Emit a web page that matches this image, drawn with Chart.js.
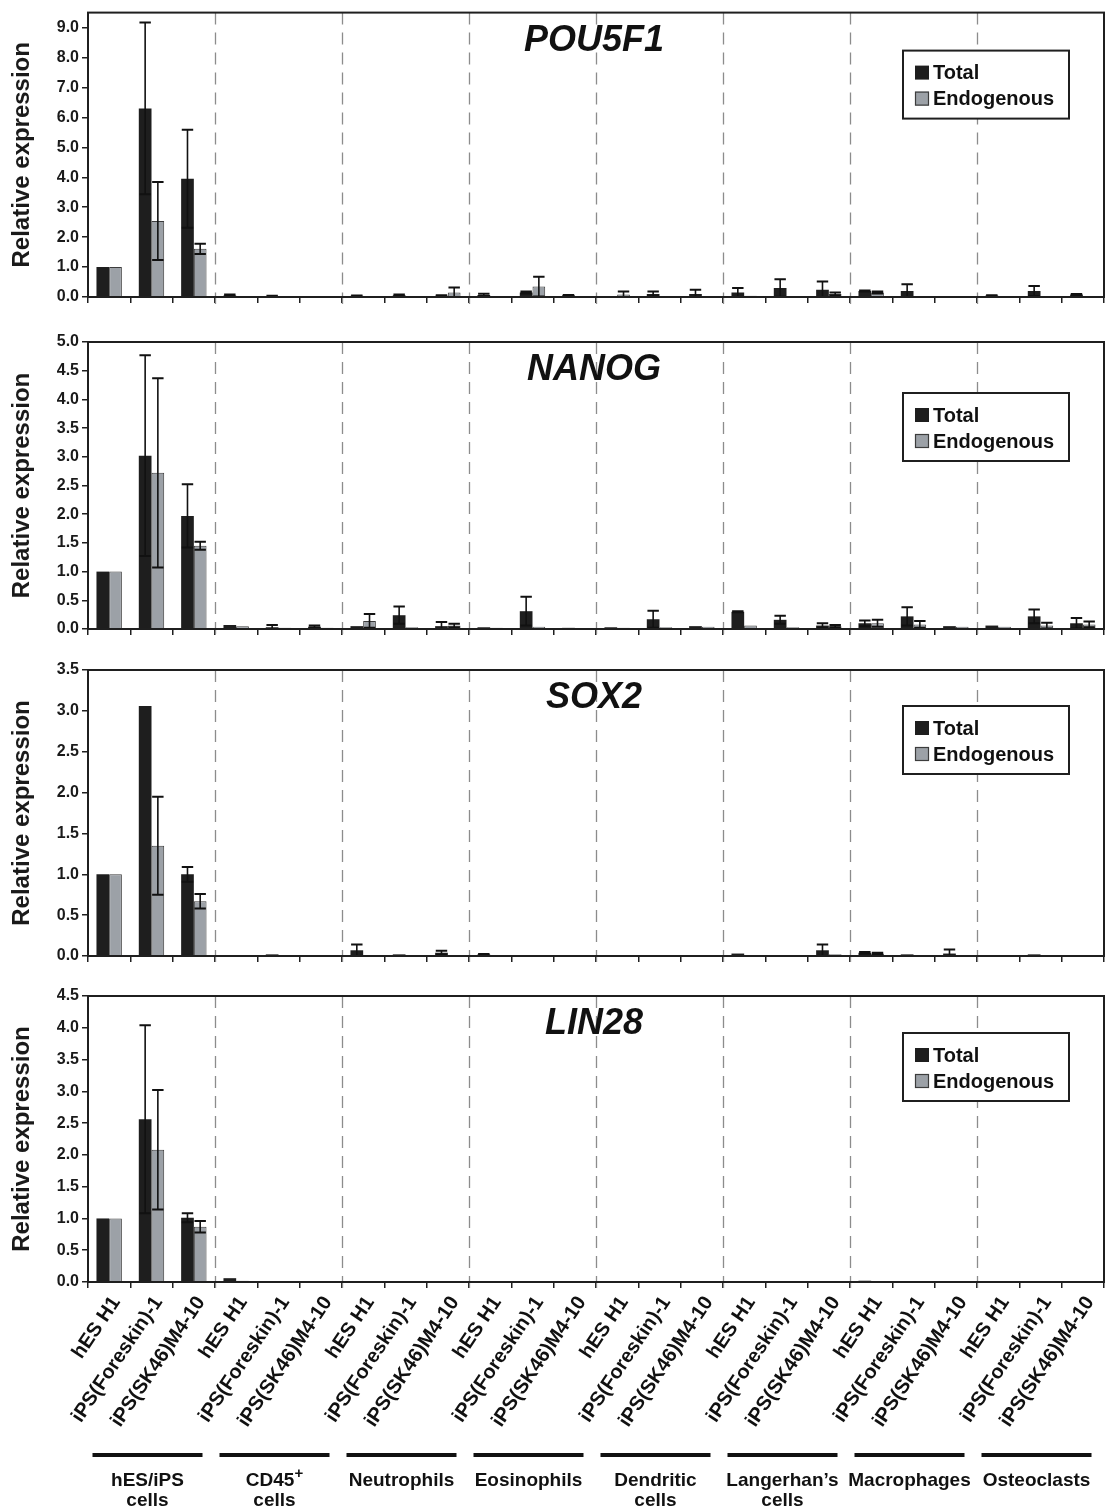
<!DOCTYPE html>
<html><head><meta charset="utf-8">
<script src="https://cdn.jsdelivr.net/npm/chart.js@4.4.1/dist/chart.umd.min.js"></script>
<style>
html,body{margin:0;padding:0;background:#fff;}
#wrap{position:relative;width:1107px;height:1512px;overflow:hidden;}
canvas{position:absolute;left:0;display:block;}
</style></head><body>
<div id="wrap">
<canvas id="c0" width="1107" height="320" style="top:0px"></canvas>
<canvas id="c1" width="1107" height="330" style="top:320px"></canvas>
<canvas id="c2" width="1107" height="326" style="top:650px"></canvas>
<canvas id="c3" width="1107" height="536" style="top:976px"></canvas>
</div>
<script>
// ---------------- DATA ----------------
const sampleLabels = [
  'hES H1','iPS(Foreskin)-1','iPS(SK46)M4-10',
  'hES H1','iPS(Foreskin)-1','iPS(SK46)M4-10',
  'hES H1','iPS(Foreskin)-1','iPS(SK46)M4-10',
  'hES H1','iPS(Foreskin)-1','iPS(SK46)M4-10',
  'hES H1','iPS(Foreskin)-1','iPS(SK46)M4-10',
  'hES H1','iPS(Foreskin)-1','iPS(SK46)M4-10',
  'hES H1','iPS(Foreskin)-1','iPS(SK46)M4-10',
  'hES H1','iPS(Foreskin)-1','iPS(SK46)M4-10'
];
const groupLabels = [
  ['hES/iPS','cells'], ['CD45+','cells'], ['Neutrophils'], ['Eosinophils'],
  ['Dendritic','cells'], ['Langerhan\u2019s','cells'], ['Macrophages'], ['Osteoclasts']
];
const seriesNames = ['Total','Endogenous'];
const geneNames = ['POU5F1','NANOG','SOX2','LIN28'];
const yMaxes = [9.5, 5.0, 3.5, 4.5];

const pou5f1Ticks = [0,1,2,3,4,5,6,7,8,9];
const nanogTicks  = [0,0.5,1,1.5,2,2.5,3,3.5,4,4.5,5];
const sox2Ticks   = [0,0.5,1,1.5,2,2.5,3,3.5];
const lin28Ticks  = [0,0.5,1,1.5,2,2.5,3,3.5,4,4.5];

const pou5f1Total    = [1.00,6.30,3.95, 0.05,0.03,0.02, 0.04,0.06,0.04, 0.07,0.15,0.06, 0.02,0.10,0.10, 0.15,0.30,0.24, 0.20,0.20,0.03, 0.05,0.20,0.08];
const pou5f1TotalErr = [0,2.87,1.64,    0.03,0.01,0,    0.01,0.02,0.02, 0.04,0.03,0.01, 0,0.08,0.14,    0.15,0.29,0.28, 0.02,0.23,0,    0.01,0.17,0.02];
const pou5f1Endo     = [1.00,2.54,1.61, 0.01,0.01,0.01, 0.03,0.02,0.15, 0.03,0.35,0.01, 0.08,0.02,0.02, 0.04,0.01,0.10, 0.15,0.01,0.01, 0.02,0.02,0.02];
const pou5f1EndoErr  = [0,1.30,0.17,    0,0,0,          0,0,0.17,       0,0.33,0,       0.10,0,0,       0,0,0.05,       0.03,0,0,       0,0,0];

const nanogTotal    = [1.00,3.02,1.97, 0.07,0.03,0.04, 0.05,0.24,0.05, 0.03,0.31,0.02, 0.03,0.17,0.05, 0.30,0.16,0.06, 0.10,0.22,0.05, 0.06,0.22,0.10];
const nanogTotalErr = [0,1.75,0.55,    0,0.04,0.02,    0,0.15,0.07,    0,0.25,0,       0,0.15,0,       0.01,0.07,0.04, 0.05,0.16,0,    0,0.12,0.09];
const nanogEndo     = [1.00,2.72,1.45, 0.05,0.02,0.02, 0.14,0.03,0.06, 0.02,0.04,0.01, 0.02,0.03,0.04, 0.06,0.03,0.05, 0.10,0.08,0.04, 0.04,0.06,0.08];
const nanogEndoErr  = [0,1.65,0.07,    0,0,0,          0.12,0,0.03,    0,0,0,          0,0,0,          0,0,0.02,       0.06,0.06,0,    0,0.05,0.05];

const sox2Total    = [1.00,3.06,1.00, 0.01,0.02,0.01, 0.07,0.02,0.04, 0.02,0.01,0.01, 0.01,0.01,0.01, 0.03,0.01,0.07, 0.04,0.02,0.03, 0.01,0.02,0.01];
const sox2TotalErr = [0,0,0.09,       0,0,0,          0.07,0,0.025,   0.005,0,0,      0,0,0,          0,0,0.07,       0.01,0,0.05,    0,0,0];
const sox2Endo     = [1.00,1.35,0.67, 0.005,0.01,0.005, 0.01,0.01,0.01, 0.01,0.005,0.005, 0.005,0.005,0.005, 0.01,0.01,0.02, 0.03,0.01,0.01, 0.005,0.01,0.005];
const sox2EndoErr  = [0,0.60,0.09,    0,0,0,          0,0,0,          0,0,0,          0,0,0,          0,0,0,          0.01,0,0,       0,0,0];

const lin28Total    = [1.00,2.56,1.01, 0.06,0.01,0.01, 0.005,0.005,0.005, 0.005,0.005,0.005, 0.005,0.005,0.005, 0.005,0.005,0.005, 0.02,0.005,0.005, 0.005,0.005,0.005];
const lin28TotalErr = [0,1.48,0.07,    0,0,0,          0,0,0,             0,0,0,             0,0,0,             0,0,0,             0,0,0,            0,0,0];
const lin28Endo     = [1.00,2.08,0.87, 0.02,0.005,0.01, 0.005,0.005,0.005, 0.005,0.005,0.005, 0.005,0.005,0.005, 0.005,0.005,0.005, 0.005,0.005,0.005, 0.005,0.005,0.005];
const lin28EndoErr  = [0,0.94,0.09,    0,0,0,          0,0,0,             0,0,0,             0,0,0,             0,0,0,             0,0,0,             0,0,0];

// ---------------- STYLE ----------------
const FONT = "'Liberation Sans', Arial, Helvetica, sans-serif";
const INK = '#1f1f1f';
const TOTAL_COLOR = '#1e1e1e';
const ENDO_COLOR = '#9ca1a7';
const ENDO_BORDER = '#3c3c3c';

const panels = [
  {id:'c0', gene:geneNames[0], max:yMaxes[0], ticks:pou5f1Ticks, total:pou5f1Total, totalErr:pou5f1TotalErr, endo:pou5f1Endo, endoErr:pou5f1EndoErr, padTop:10, xH:23, legTop:38, last:false},
  {id:'c1', gene:geneNames[1], max:yMaxes[1], ticks:nanogTicks,  total:nanogTotal,  totalErr:nanogTotalErr,  endo:nanogEndo,  endoErr:nanogEndoErr,  padTop:22, xH:21, legTop:51, last:false},
  {id:'c2', gene:geneNames[2], max:yMaxes[2], ticks:sox2Ticks,   total:sox2Total,   totalErr:sox2TotalErr,   endo:sox2Endo,   endoErr:sox2EndoErr,   padTop:20, xH:20, legTop:36, last:false},
  {id:'c3', gene:geneNames[3], max:yMaxes[3], ticks:lin28Ticks,  total:lin28Total,  totalErr:lin28TotalErr,  endo:lin28Endo,  endoErr:lin28EndoErr,  padTop:20, xH:230, legTop:37, last:true}
];

// ---------------- PLUGINS ----------------
const separatorPlugin = {
  id: 'separators',
  beforeDatasetsDraw(chart) {
    const {ctx, chartArea, scales:{x}} = chart;
    const n = chart.data.labels.length;
    const step = (x.getPixelForValue(1) - x.getPixelForValue(0));
    ctx.save();
    ctx.strokeStyle = '#8c8c8c';
    ctx.lineWidth = 1.3;
    ctx.setLineDash([12, 8]);
    for (let i = 3; i < n; i += 3) {
      const px = Math.round(x.getPixelForValue(i) - step / 2) + 0.5;
      ctx.beginPath();
      ctx.moveTo(px, chartArea.top);
      ctx.lineTo(px, chartArea.bottom + 7);
      ctx.stroke();
    }
    ctx.restore();
  }
};

const errorBarPlugin = {
  id: 'errorBars',
  afterDatasetsDraw(chart) {
    const {ctx, scales:{y}} = chart;
    ctx.save();
    ctx.strokeStyle = '#111';
    chart.data.datasets.forEach((ds, d) => {
      const meta = chart.getDatasetMeta(d);
      meta.data.forEach((bar, i) => {
        const v = ds.data[i], e = ds.errors[i];
        if (!e) return;
        const yt = y.getPixelForValue(v + e);
        const yb = y.getPixelForValue(Math.max(v - e, 0));
        const hw = bar.width * 0.45;
        ctx.lineWidth = 1.6;
        ctx.beginPath();
        ctx.moveTo(bar.x, yb); ctx.lineTo(bar.x, yt);
        ctx.stroke();
        ctx.lineWidth = 2;
        ctx.beginPath();
        ctx.moveTo(bar.x - hw, yt); ctx.lineTo(bar.x + hw, yt);
        ctx.moveTo(bar.x - hw, yb); ctx.lineTo(bar.x + hw, yb);
        ctx.stroke();
      });
    });
    ctx.restore();
  }
};

const framePlugin = {
  id: 'frame',
  afterDraw(chart, args, opts) {
    const {ctx, chartArea:a} = chart;
    ctx.save();
    ctx.strokeStyle = INK;
    ctx.lineWidth = 2;
    ctx.strokeRect(a.left, a.top, a.right - a.left, a.bottom - a.top);
    // gene title
    ctx.fillStyle = '#111';
    ctx.font = `italic bold 36px ${FONT}`;
    ctx.textAlign = 'center';
    ctx.textBaseline = 'alphabetic';
    ctx.fillText(opts.gene, (a.left + a.right) / 2 - 2, a.top + 38);
    // legend
    const bx = 903, bw = 166, by = a.top + opts.legTop, bh = 68;
    ctx.lineWidth = 2;
    ctx.strokeStyle = INK;
    ctx.fillStyle = '#fff';
    ctx.fillRect(bx, by, bw, bh);
    ctx.strokeRect(bx, by, bw, bh);
    ctx.font = `bold 20px ${FONT}`;
    ctx.textAlign = 'left';
    ctx.textBaseline = 'middle';
    chart.data.datasets.forEach((ds, d) => {
      const cy = by + 22 + d * 26;
      ctx.fillStyle = ds.backgroundColor;
      ctx.fillRect(915, cy - 7, 14, 14);
      if (ds.borderWidth) {
        ctx.lineWidth = 1.2;
        ctx.strokeStyle = ds.borderColor;
        ctx.strokeRect(915.5, cy - 6.5, 13, 13);
      }
      ctx.fillStyle = '#111';
      ctx.fillText(ds.label, 933, cy + 1);
    });
    ctx.restore();
  }
};

const groupLabelPlugin = {
  id: 'groupLabels',
  afterDraw(chart, args, opts) {
    if (!opts.show) return;
    const {ctx, chartArea:a, scales:{x}} = chart;
    ctx.save();
    ctx.fillStyle = '#111';
    ctx.strokeStyle = '#111';
    groupLabels.forEach((lines, g) => {
      const cx = (x.getPixelForValue(3 * g) + x.getPixelForValue(3 * g + 2)) / 2 - 4;
      ctx.lineWidth = 4;
      ctx.beginPath();
      ctx.moveTo(cx - 55, a.bottom + 173);
      ctx.lineTo(cx + 55, a.bottom + 173);
      ctx.stroke();
      ctx.textAlign = 'center';
      ctx.textBaseline = 'middle';
      lines.forEach((t, k) => {
        const ty = a.bottom + 199 + k * 20;
        ctx.font = `bold 19px ${FONT}`;
        if (t.endsWith('+')) {
          const base = t.slice(0, -1);
          const w = ctx.measureText(base).width;
          ctx.font = `bold 15px ${FONT}`;
          const pw = ctx.measureText('+').width;
          ctx.font = `bold 19px ${FONT}`;
          ctx.textAlign = 'left';
          const sx = cx - (w + pw) / 2;
          ctx.fillText(base, sx, ty);
          ctx.font = `bold 15px ${FONT}`;
          ctx.fillText('+', sx + w, ty - 7);
          ctx.textAlign = 'center';
        } else {
          ctx.fillText(t, cx, ty);
        }
      });
    });
    ctx.restore();
  }
};

// ---------------- CHARTS ----------------
panels.forEach(p => {
  new Chart(document.getElementById(p.id), {
    type: 'bar',
    data: {
      labels: sampleLabels,
      datasets: [
        {label: seriesNames[0], data: p.total, errors: p.totalErr, backgroundColor: TOTAL_COLOR, borderColor: TOTAL_COLOR, borderWidth: 0},
        {label: seriesNames[1], data: p.endo, errors: p.endoErr, backgroundColor: ENDO_COLOR, borderColor: ENDO_BORDER, borderWidth: 1}
      ]
    },
    options: {
      responsive: false,
      animation: false,
      devicePixelRatio: 1,
      layout: {padding: {top: p.padTop, right: 3, bottom: 0, left: 0}},
      datasets: {bar: {categoryPercentage: 0.6, barPercentage: 1.0}},
      plugins: {
        legend: {display: false},
        tooltip: {enabled: false},
        frame: {gene: p.gene, legTop: p.legTop},
        groupLabels: {show: p.last}
      },
      scales: {
        x: {
          offset: true,
          grid: {display: true, drawOnChartArea: false, offset: true, tickLength: 6, color: INK, lineWidth: 1.5},
          border: {display: true, color: INK, width: 2},
          ticks: {
            display: p.last, autoSkip: false, minRotation: 56, maxRotation: 56, padding: 4, labelOffset: 7,
            color: '#111', font: {family: FONT, size: 20, weight: 'bold'}
          },
          afterFit(scale) { scale.height = p.xH; }
        },
        y: {
          min: 0, max: p.max,
          grid: {display: true, drawOnChartArea: false, tickLength: 6, color: INK, lineWidth: 1.5},
          border: {display: true, color: INK, width: 2},
          ticks: {
            padding: 3, color: '#1a1a1a', font: {family: FONT, size: 16, weight: 'bold'},
            callback: v => Number(v).toFixed(1)
          },
          afterBuildTicks(scale) { scale.ticks = p.ticks.map(v => ({value: v})); },
          title: {display: true, text: 'Relative expression', color: '#1a1a1a',
                  font: {family: FONT, size: 24, weight: 'bold'}, padding: {top: 8, bottom: 0}},
          afterFit(scale) { scale.width = 88; }
        }
      }
    },
    plugins: [separatorPlugin, errorBarPlugin, framePlugin, groupLabelPlugin]
  });
});
</script>
</body></html>
